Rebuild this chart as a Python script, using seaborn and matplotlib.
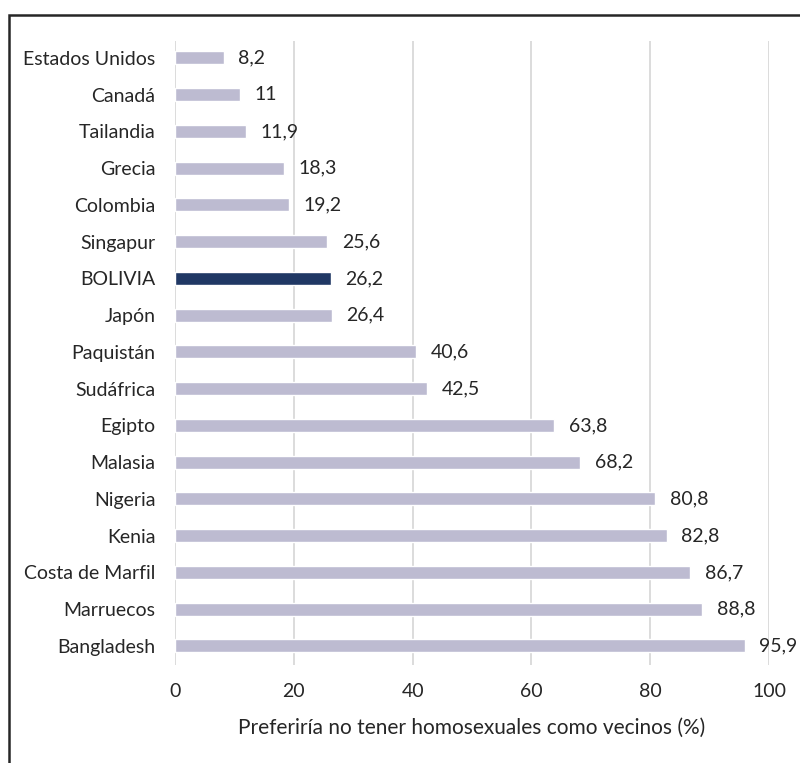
import matplotlib
matplotlib.use("Agg")
import matplotlib.pyplot as plt
import seaborn as sns
import pandas as pd
from matplotlib.patches import Rectangle

countries = ["Estados Unidos", "Canadá", "Tailandia", "Grecia", "Colombia", "Singapur",
             "BOLIVIA", "Japón", "Paquistán", "Sudáfrica", "Egipto", "Malasia", "Nigeria",
             "Kenia", "Costa de Marfil", "Marruecos", "Bangladesh"]
values = [8.2, 11, 11.9, 18.3, 19.2, 25.6, 26.2, 26.4, 40.6, 42.5, 63.8, 68.2, 80.8,
          82.8, 86.7, 88.8, 95.9]
value_labels = ["8,2", "11", "11,9", "18,3", "19,2", "25,6", "26,2", "26,4", "40,6", "42,5",
                "63,8", "68,2", "80,8", "82,8", "86,7", "88,8", "95,9"]
x_ticks = [0, 20, 40, 60, 80, 100]
x_label = "Preferiría no tener homosexuales como vecinos (%)"
highlight = "BOLIVIA"

sns.set_theme(style="white")
plt.rcParams['font.family'] = ['Lato', 'DejaVu Sans']

df = pd.DataFrame({"country": countries, "value": values})
palette = {c: ("#203864" if c == highlight else "#BDBBD1") for c in countries}

fig = plt.figure(figsize=(8, 7.63), dpi=100)
ax = fig.add_axes([175/800, 1 - 665/763, (769 - 175)/800, (665 - 41)/763])

sns.barplot(data=df, x="value", y="country", hue="country", palette=palette,
            order=countries, width=0.355, legend=False, ax=ax, saturation=1)

ax.set_xlim(0, 100)
ax.set_ylim(16.52, -0.46)
ax.set_xticks(x_ticks)
ax.set_xticklabels([str(t) for t in x_ticks], fontsize=14, color="#262626")
ax.tick_params(axis="x", length=0, pad=13)
ax.tick_params(axis="y", length=0, pad=14, labelsize=14, labelcolor="#262626")
ax.grid(axis="x", color="#D9D9D9", linewidth=1.3)
ax.grid(axis="y", visible=False)
ax.set_axisbelow(True)
for s in ax.spines.values():
    s.set_visible(False)
ax.set_ylabel("")
ax.set_xlabel(x_label, fontsize=15, color="#262626", labelpad=13)

for i, (v, lab) in enumerate(zip(values, value_labels)):
    ax.annotate(lab, xy=(v, i), xytext=(10.5, 0), textcoords="offset points",
                va="center", ha="left", fontsize=14, color="#262626")

fig.patches.append(Rectangle((9/800, -0.1), 1.2, 1 - 15/763 + 0.1, transform=fig.transFigure,
                             fill=False, edgecolor="#262626", linewidth=1.8, zorder=10))

fig.savefig("out.png", dpi=100, facecolor="white")
